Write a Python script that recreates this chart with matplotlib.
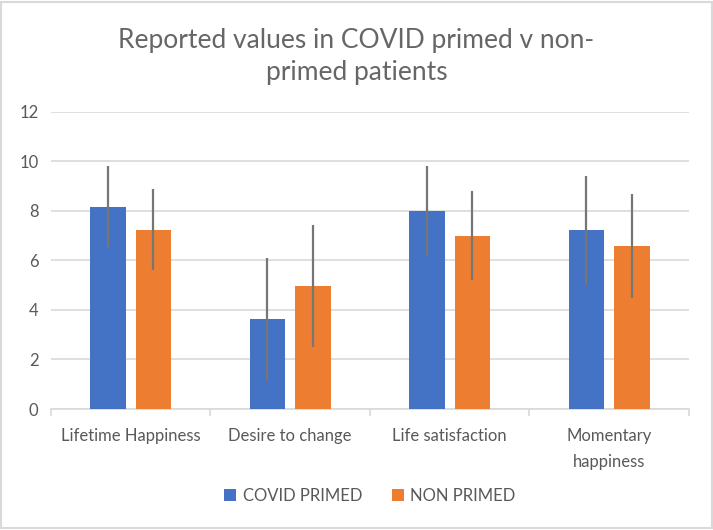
import matplotlib.pyplot as plt
import numpy as np
from matplotlib.patches import Rectangle

plt.rcParams['font.family'] = ['Lato', 'DejaVu Sans']

categories = ['Lifetime Happiness', 'Desire to change', 'Life satisfaction',
              'Momentary\nhappiness']
covid_primed = [8.15, 3.62, 8.0, 7.22]
covid_err = [1.65, 2.5, 1.8, 2.2]
non_primed = [7.25, 4.97, 7.0, 6.58]
non_err = [1.63, 2.48, 1.8, 2.1]

blue = '#4472C4'
orange = '#ED7D31'
text_grey = '#595959'
grid_grey = '#D9D9D9'

fig = plt.figure(figsize=(7.13, 5.3), dpi=100)
ax = fig.add_axes([0.0715, 0.2283, 0.8948, 0.5604])

x = np.arange(len(categories))
w = 0.223
off = 0.1426
err_kw = dict(ecolor='#767676', elinewidth=1.6, capsize=0)
ax.bar(x - off, covid_primed, w, color=blue, yerr=covid_err,
       error_kw=err_kw, label='COVID PRIMED', zorder=3)
ax.bar(x + off, non_primed, w, color=orange, yerr=non_err,
       error_kw=err_kw, label='NON PRIMED', zorder=3)

ax.set_xlim(-0.5, len(categories) - 0.5)
ax.set_ylim(0, 12)
ax.set_yticks(range(0, 13, 2))
ax.yaxis.grid(True, color=grid_grey, linewidth=1.2, zorder=0)
ax.set_axisbelow(True)

for s in ['top', 'right', 'left']:
    ax.spines[s].set_visible(False)
ax.spines['bottom'].set_color(grid_grey)
ax.spines['bottom'].set_linewidth(1.2)

ax.set_xticks(x)
ax.set_xticklabels(categories, fontsize=12, color=text_grey, linespacing=1.75)
ax.set_xticks(np.arange(-0.5, len(categories)), minor=True)
ax.tick_params(axis='x', which='major', length=0, pad=14)
ax.tick_params(axis='x', which='minor', length=5, color=grid_grey, width=1.2)
ax.tick_params(axis='y', length=0, labelsize=12, labelcolor=text_grey, pad=9)

fig.text(0.5, 0.893, 'Reported values in COVID primed v non-\nprimed patients',
         ha='center', va='center', fontsize=19, color='#666666', linespacing=1.35)

ax.legend(loc='upper center', bbox_to_anchor=(0.5, -0.215), ncol=2, frameon=False,
          fontsize=12, labelcolor=text_grey, handlelength=0.7, handleheight=0.7,
          handletextpad=0.4, columnspacing=1.8)

fig.patches.append(Rectangle((0.002, 0.003), 0.996, 0.994, transform=fig.transFigure,
                             fill=False, edgecolor=grid_grey, linewidth=1.5))

fig.savefig('out.png', dpi=100, facecolor='white')
